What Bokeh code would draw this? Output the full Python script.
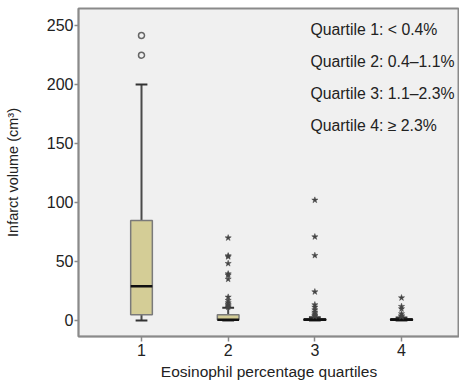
from bokeh.plotting import figure
from bokeh.models import Label, Range1d, FixedTicker
from bokeh.embed import file_html
from bokeh.resources import INLINE

# ---- data ----
categories = [1, 2, 3, 4]
lower_whisker = [0.0, 0.0, 0.0, 0.0]
q1 = [4.8, 0.5, 0.2, 0.2]
median = [29.0, 0.6, 0.5, 0.5]
q3 = [84.7, 4.8, 1.3, 1.2]
upper_whisker = [200.0, 10.8, 2.8, 2.5]

outliers_q1 = [241.5, 224.8]
outliers_q2 = [70.0, 54.8, 54.0, 48.3, 39.5, 38.4, 35.0, 19.8, 17.0, 15.0, 13.5, 12.4, 11.3]
outliers_q3 = [102.0, 70.9, 55.1, 24.3, 13.3, 11.3, 9.0, 7.1, 5.6, 4.2, 3.5]
outliers_q4 = [19.2, 11.9, 9.9, 5.7, 4.0, 3.2]

notes = ["Quartile 1: < 0.4%", "Quartile 2: 0.4\u20131.1%",
         "Quartile 3: 1.1\u20132.3%", "Quartile 4: \u2265 2.3%"]
x_ticks = [1, 2, 3, 4]
y_ticks = [0, 50, 100, 150, 200, 250]
x_title = "Eosinophil percentage quartiles"
y_title = "Infarct volume (cm\u00b3)"

FONT = "Liberation Sans"
BOX_FILL = "#d4cd96"
TXT = "#222222"

p = figure(width=459, height=383, output_backend="svg", toolbar_location=None,
           x_range=Range1d(0.273, 4.669), y_range=Range1d(-13.6, 264.4),
           min_border_left=78, min_border_right=0, min_border_top=8, min_border_bottom=47)

p.background_fill_color = "#f0f0f0"
p.border_fill_color = "white"
p.outline_line_color = "#8a8a8a"
p.outline_line_width = 2
p.xgrid.visible = False
p.ygrid.visible = False

# whiskers
p.segment(x0=categories, y0=q3, x1=categories, y1=upper_whisker, line_color="#4a4a4a", line_width=2)
p.segment(x0=categories, y0=lower_whisker, x1=categories, y1=q1, line_color="#4a4a4a", line_width=2)
cap_w = 0.068
p.segment(x0=[c - cap_w for c in categories], y0=upper_whisker,
          x1=[c + cap_w for c in categories], y1=upper_whisker, line_color="#333333", line_width=2)
p.segment(x0=[c - cap_w for c in categories], y0=lower_whisker,
          x1=[c + cap_w for c in categories], y1=lower_whisker, line_color="#333333", line_width=2)

# boxes
p.vbar(x=categories, bottom=q1, top=q3, width=0.25, fill_color=BOX_FILL,
       line_color="#7a7a7a", line_width=1.5)
# medians
p.segment(x0=[c - 0.125 for c in categories], y0=median,
          x1=[c + 0.125 for c in categories], y1=median, line_color="#111111", line_width=2.5)
# flat boxes 3 & 4 look black
p.vbar(x=categories[2:], bottom=q1[2:], top=q3[2:], width=0.25, fill_color="#111111",
       line_color="#111111", line_width=1.5)

# outliers
p.scatter(x=[1] * len(outliers_q1), y=outliers_q1, marker="circle", size=6,
          fill_color=None, line_color="#666666", line_width=1.5)
for cat, vals in zip([2, 3, 4], [outliers_q2, outliers_q3, outliers_q4]):
    p.scatter(x=[cat] * len(vals), y=vals, marker="star", size=6.5,
              fill_color="#444444", line_color="#444444", line_width=0.5)

# axes
p.xaxis.ticker = FixedTicker(ticks=x_ticks)
p.yaxis.ticker = FixedTicker(ticks=y_ticks)
for ax in (p.xaxis, p.yaxis):
    ax.axis_line_color = "#8a8a8a"
    ax.axis_line_width = 1.5
    ax.major_tick_line_color = "#8a8a8a"
    ax.major_tick_line_width = 1.5
    ax.minor_tick_line_color = None
    ax.major_tick_in = 0
    ax.major_label_text_font = FONT
    ax.major_label_text_font_size = "16px"
    ax.major_label_text_color = TXT
    ax.axis_label_text_font = FONT
    ax.axis_label_text_font_style = "normal"
    ax.axis_label_text_color = TXT
p.xaxis.major_tick_out = 5
p.yaxis.major_tick_out = 4
p.xaxis.major_label_standoff = 2
p.yaxis.major_label_standoff = 1
p.xaxis.axis_label = x_title
p.yaxis.axis_label = y_title
p.xaxis.axis_label_text_font_size = "15.5px"
p.yaxis.axis_label_text_font_size = "14.5px"
p.xaxis.axis_label_standoff = 4
p.yaxis.axis_label_standoff = 23

baselines = [306.7, 275.3, 242.7, 211.0]
for txt, yb in zip(notes, baselines):
    p.add_layout(Label(x=232, y=yb, x_units="screen", y_units="screen", text=txt,
                       text_font=FONT, text_font_size="15.8px", text_color=TXT,
                       text_baseline="alphabetic"))

open("out.html", "w").write(file_html(p, INLINE))
